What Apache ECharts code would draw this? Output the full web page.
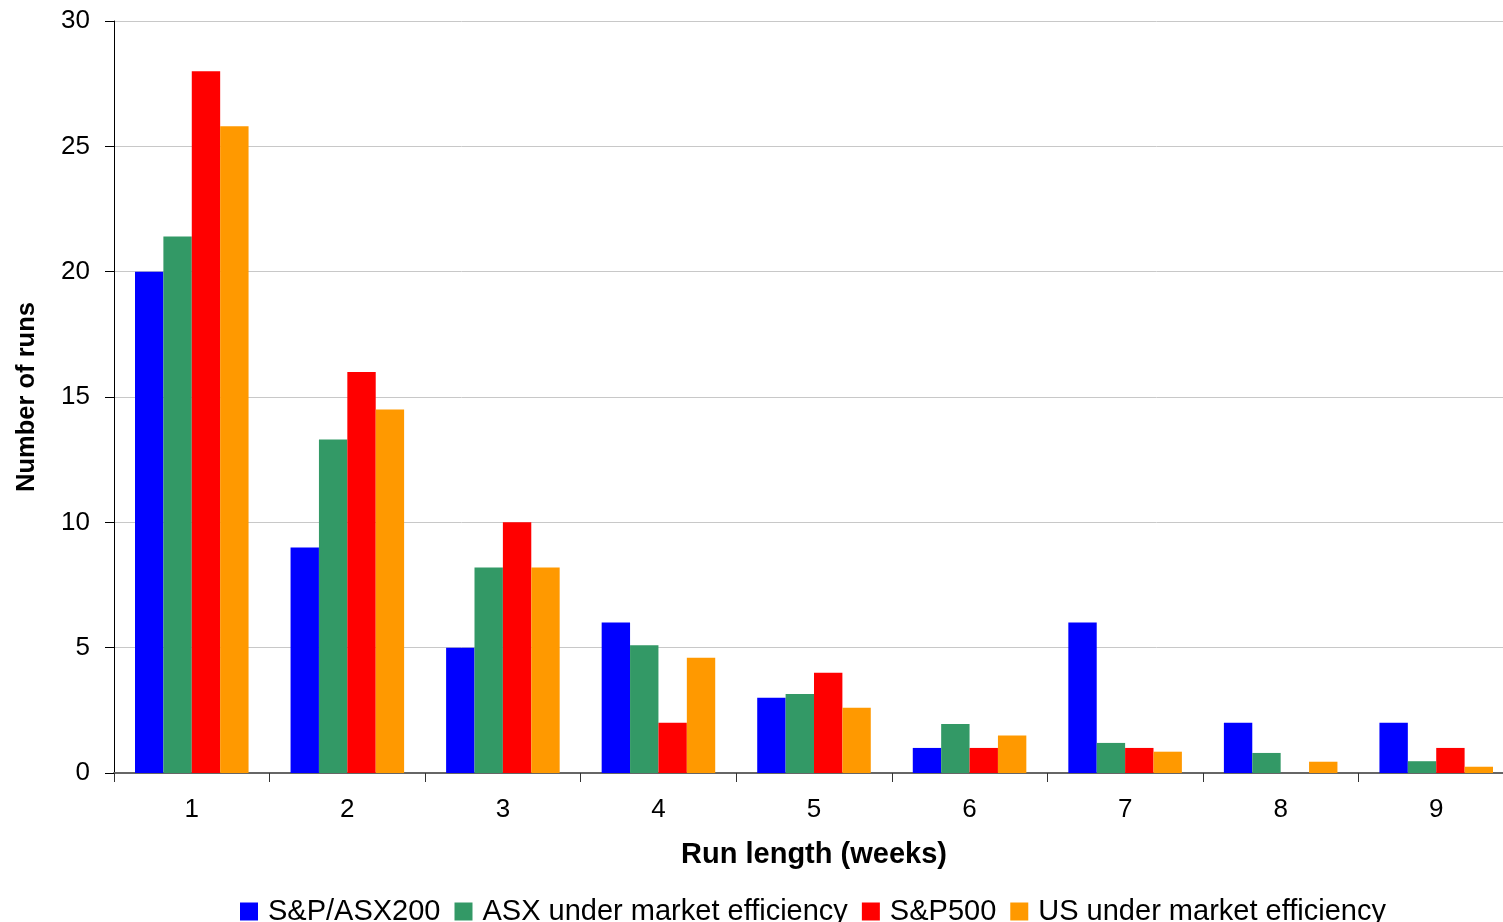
<!DOCTYPE html>
<html>
<head>
<meta charset="utf-8">
<script src="https://cdn.jsdelivr.net/npm/echarts@6/dist/echarts.min.js"></script>
<style>
html,body{margin:0;padding:0;background:#fff;}
#chart{width:1503px;height:922px;}
</style>
</head>
<body>
<div id="chart"></div>
<script>
const categories = ['1','2','3','4','5','6','7','8','9'];
const seriesNames = ['S&P/ASX200','ASX under market efficiency','S&P500','US under market efficiency'];
const asx200 = [20, 9, 5, 6, 3, 1, 6, 2, 2];
const asxEfficient = [21.4, 13.3, 8.2, 5.1, 3.15, 1.95, 1.2, 0.8, 0.47];
const sp500 = [28, 16, 10, 2, 4, 1, 1, 0, 1];
const usEfficient = [25.8, 14.5, 8.2, 4.6, 2.6, 1.5, 0.85, 0.45, 0.25];
const colors = ['#0000FF','#339966','#FF0000','#FF9900'];
const yTicks = {min: 0, max: 30, interval: 5};

const font = 'Liberation Sans, Arial, sans-serif';
const chart = echarts.init(document.getElementById('chart'));
const dataSets = [asx200, asxEfficient, sp500, usEfficient];
chart.setOption({
  animation: false,
  color: colors,
  textStyle: {fontFamily: font},
  grid: {left: 114, width: 1400, top: 21, bottom: 149, containLabel: false, outerBoundsMode: 'none'},
  legend: {
    bottom: -9, left: 235,
    itemWidth: 18, itemHeight: 18, itemGap: 14,
    icon: 'rect',
    textStyle: {fontSize: 29, color: '#000', fontFamily: font, padding: [0,0,0,5]},
    data: seriesNames
  },
  xAxis: {
    type: 'category',
    data: categories,
    name: 'Run length (weeks)',
    nameLocation: 'middle',
    nameGap: 67,
    nameTextStyle: {fontSize: 29, fontWeight: 'bold', color: '#000', fontFamily: font},
    axisLine: {lineStyle: {color: '#666', width: 2}},
    axisTick: {show: true, length: 9, lineStyle: {color: '#333', width: 1}},
    axisLabel: {fontSize: 26, color: '#000', margin: 24, fontFamily: font}
  },
  yAxis: {
    type: 'value',
    min: yTicks.min, max: yTicks.max, interval: yTicks.interval,
    name: 'Number of runs',
    nameLocation: 'middle',
    nameGap: 74,
    nameRotate: 90,
    nameTextStyle: {fontSize: 25.5, fontWeight: 'bold', color: '#000', fontFamily: font},
    axisLine: {show: true, lineStyle: {color: '#000', width: 1}},
    axisTick: {show: true, length: 9, lineStyle: {color: '#000'}},
    axisLabel: {fontSize: 26, color: '#000', margin: 24, fontFamily: font},
    splitLine: {lineStyle: {color: '#c8c8c8', width: 1}}
  },
  series: seriesNames.map((n, i) => ({
    name: n,
    type: 'bar',
    data: dataSets[i],
    barGap: '0%',
    barCategoryGap: '27%',
    itemStyle: {color: colors[i]}
  }))
});
</script>
</body>
</html>
